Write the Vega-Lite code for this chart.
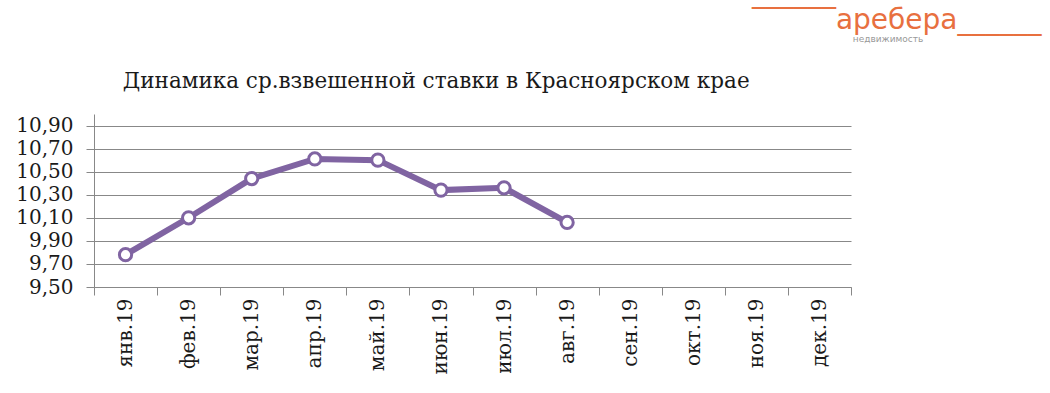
{
  "$schema": "https://vega.github.io/schema/vega-lite/v6.json",
  "background": "white",
  "padding": {"left": 15, "top": 6, "right": 5, "bottom": 0},
  "title": {
    "text": "‾‾‾‾‾‾аребера______",
    "subtitle": "недвижимость\u00a0\u00a0\u00a0\u00a0\u00a0\u00a0\u00a0\u00a0\u00a0\u00a0\u00a0\u00a0\u00a0\u00a0\u00a0\u00a0\u00a0\u00a0\u00a0\u00a0\u00a0\u00a0\u00a0\u00a0\u00a0\u00a0\u00a0\u00a0\u00a0\u00a0\u00a0\u00a0\u00a0\u00a0\u00a0\u00a0\u00a0\u00a0\u00a0\u2800",
    "anchor": "end",
    "frame": "bounds",
    "font": "DejaVu Sans",
    "fontSize": 28,
    "fontWeight": "normal",
    "color": "#E8703F",
    "subtitleFont": "DejaVu Sans",
    "subtitleFontSize": 9,
    "subtitleColor": "#999999",
    "subtitlePadding": 0,
    "dx": 190,
    "offset": 27
  },
  "vconcat": [
    {
      "title": {
        "text": "Динамика ср.взвешенной ставки в Красноярском крае",
        "font": "DejaVu Serif",
        "fontSize": 21.5,
        "fontWeight": "normal",
        "color": "#1a1a1a",
        "anchor": "start",
        "dx": 107,
        "offset": 22
      },
      "width": 757,
      "height": 173,
      "data": {
        "values": [
          {"month": "янв.19", "value": 9.78},
          {"month": "фев.19", "value": 10.10},
          {"month": "мар.19", "value": 10.44},
          {"month": "апр.19", "value": 10.61},
          {"month": "май.19", "value": 10.60},
          {"month": "июн.19", "value": 10.34},
          {"month": "июл.19", "value": 10.36},
          {"month": "авг.19", "value": 10.06},
          {"month": "сен.19", "value": null},
          {"month": "окт.19", "value": null},
          {"month": "ноя.19", "value": null},
          {"month": "дек.19", "value": null}
        ]
      },
      "encoding": {
        "x": {
          "field": "month",
          "type": "ordinal",
          "sort": null,
          "scale": {
            "domain": ["янв.19", "фев.19", "мар.19", "апр.19", "май.19", "июн.19", "июл.19", "авг.19", "сен.19", "окт.19", "ноя.19", "дек.19"],
            "paddingInner": 0,
            "paddingOuter": 0
          },
          "axis": {
            "title": null,
            "labelAngle": -90,
            "labelFont": "DejaVu Serif",
            "labelFontSize": 20,
            "labelColor": "#1a1a1a",
            "tickBand": "extent",
            "tickSize": 8,
            "tickColor": "#888888",
            "domainColor": "#888888",
            "labelPadding": 3,
            "grid": false
          }
        },
        "y": {
          "field": "value",
          "type": "quantitative",
          "scale": {"domain": [9.5, 11.0], "nice": false, "zero": false},
          "axis": {
            "title": null,
            "values": [9.5, 9.7, 9.9, 10.1, 10.3, 10.5, 10.7, 10.9],
            "labelExpr": "replace(format(datum.value, '.2f'), '.', ',')",
            "labelFont": "DejaVu Serif",
            "labelFontSize": 20,
            "labelColor": "#1a1a1a",
            "tickSize": 8,
            "tickColor": "#888888",
            "domainColor": "#888888",
            "gridColor": "#888888",
            "gridOpacity": 1,
            "labelPadding": 13
          }
        }
      },
      "layer": [
        {"mark": {"type": "line", "color": "#8064A2", "strokeWidth": 6}},
        {"mark": {"type": "point", "filled": true, "fill": "white", "stroke": "#8064A2", "strokeWidth": 3, "size": 150, "opacity": 1}}
      ]
    }
  ],
  "config": {"view": {"stroke": null}}
}
